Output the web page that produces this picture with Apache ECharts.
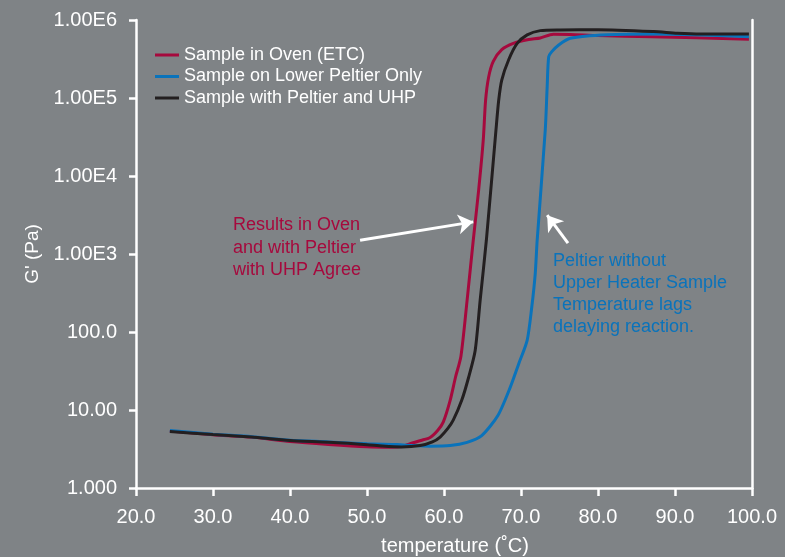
<!DOCTYPE html>
<html>
<head>
<meta charset="utf-8">
<script src="https://cdn.jsdelivr.net/npm/echarts@6/dist/echarts.min.js"></script>
<style>
html,body{margin:0;padding:0;background:#7f8386;}
#chart{width:785px;height:557px;}
</style>
</head>
<body>
<div id="chart"></div>
<script>
// ---- data ----
const seriesNames = ['Sample in Oven (ETC)', 'Sample on Lower Peltier Only', 'Sample with Peltier and UHP'];

const ovenX = [24.4, 30, 35, 40, 45, 50, 53, 54.5, 55.6, 57, 58.2, 59.2, 59.9, 60.8, 61.5, 62.2, 63.0, 63.8, 64.5, 65.1, 65.4, 65.8, 66.4, 67.5, 69.0, 71.0, 72.5, 74.2, 76.4, 80, 87, 99.6];
const ovenY = [5.36, 4.82, 4.49, 3.95, 3.62, 3.38, 3.34, 3.4, 3.7, 4.07, 4.45, 5.5, 7.0, 13.3, 26.5, 49, 255, 1500, 6600, 29000, 93000, 186000, 295000, 417000, 501000, 562000, 589000, 656000, 653000, 631000, 612000, 566000];

const peltierX = [24.4, 30, 35, 40, 45, 50, 53.9, 56, 58.2, 60.8, 63.0, 64.9, 67.0, 68.6, 69.7, 70.8, 71.4, 71.85, 72.1, 73.15, 73.4, 73.6, 74.0, 74.9, 76.4, 81.2, 87.7, 99.6];
const peltierY = [5.45, 4.9, 4.55, 4.1, 3.9, 3.68, 3.6, 3.5, 3.44, 3.5, 3.85, 4.7, 8.5, 19.5, 39, 78, 209, 562, 1500, 38900, 140000, 339000, 393000, 479000, 583000, 646000, 661000, 612000];

const uhpX = [24.4, 30, 35, 40, 45, 50, 52, 54.5, 56.9, 58.5, 59.5, 60.5, 61.2, 62.3, 63.2, 64.05, 64.7, 65.5, 66.75, 67.1, 67.5, 68.4, 69.5, 70.8, 72.5, 75.1, 80, 87.2, 90.3, 93.3, 99.6];
const uhpY = [5.3, 4.85, 4.5, 4.07, 3.87, 3.59, 3.45, 3.36, 3.5, 3.9, 4.5, 5.8, 7.4, 13.3, 26.3, 58, 257, 1500, 38900, 93000, 170000, 309000, 500000, 645000, 731000, 746000, 750000, 710000, 676000, 660000, 660000];

const xTickLabels = ['20.0', '30.0', '40.0', '50.0', '60.0', '70.0', '80.0', '90.0', '100.0'];
const yTickLabels = ['1.000', '10.00', '100.0', '1.00E3', '1.00E4', '1.00E5', '1.00E6'];

// annotation arrows (tail -> head), in data coordinates
const arrowOven = [[49.1, 1503], [63.8, 2582]];
const arrowPeltier = [[76.1, 1376], [73.4, 3148]];

const noteOven = 'Results in Oven\nand with Peltier\nwith UHP Agree';
const notePeltier = 'Peltier without\nUpper Heater Sample\nTemperature lags\ndelaying reaction.';

// ---- chart ----
const colors = ['#a6093d', '#0a73bb', '#231f20'];
const pairs = (xs, ys) => xs.map((x, i) => [x, ys[i]]);
const font = 'Liberation Sans, Arial, sans-serif';

const chart = echarts.init(document.getElementById('chart'), null, {renderer: 'canvas'});
const axisLine = {show: true, lineStyle: {color: '#ffffff', width: 2.5}};

const option = {
  backgroundColor: '#7f8386',
  animation: false,
  color: colors,
  grid: {left: 136, right: 33, top: 20, bottom: 69, containLabel: false, outerBoundsMode: 'none'},
  legend: {
    orient: 'vertical',
    left: 155,
    top: 46,
    padding: 0,
    icon: 'rect',
    itemWidth: 24,
    itemHeight: 3,
    itemGap: 3.5,
    data: seriesNames,
    textStyle: {color: '#ffffff', fontSize: 18, fontFamily: font}
  },
  xAxis: {
    type: 'value',
    min: 20,
    max: 100,
    interval: 10,
    name: 'temperature (˚C)',
    nameLocation: 'middle',
    nameGap: 48,
    nameTextStyle: {color: '#ffffff', fontSize: 20, fontFamily: font, padding: [0, 0, 0, 22]},
    axisLine: axisLine,
    axisTick: {show: true, length: 8, lineStyle: {color: '#ffffff', width: 2.5}},
    axisLabel: {
      color: '#ffffff', fontSize: 20, fontFamily: font, margin: 19,
      formatter: (v) => xTickLabels[Math.round((v - 20) / 10)]
    },
    splitLine: {show: false}
  },
  yAxis: [{
    type: 'log',
    logBase: 10,
    min: 1,
    max: 1e6,
    interval: 1,
    name: "G' (Pa)",
    nameLocation: 'middle',
    nameGap: 85,
    nameTextStyle: {color: '#ffffff', fontSize: 19, fontFamily: font},
    axisLine: axisLine,
    axisTick: {show: true, length: 7, lineStyle: {color: '#ffffff', width: 2.5}},
    axisLabel: {
      color: '#ffffff', fontSize: 20, fontFamily: font, margin: 19,
      formatter: (v) => yTickLabels[Math.round(Math.log10(v))]
    },
    splitLine: {show: false}
  }, {
    type: 'log',
    logBase: 10,
    min: 1,
    max: 1e6,
    position: 'right',
    axisLine: axisLine,
    axisTick: {show: false},
    axisLabel: {show: false},
    splitLine: {show: false}
  }],
  series: [
    {
      name: seriesNames[0], type: 'line', data: pairs(ovenX, ovenY),
      showSymbol: false, smooth: 0.25, lineStyle: {width: 3, color: colors[0]}, z: 2
    },
    {
      name: seriesNames[1], type: 'line', data: pairs(peltierX, peltierY),
      showSymbol: false, smooth: 0.25, lineStyle: {width: 3, color: colors[1]}, z: 3
    },
    {
      name: seriesNames[2], type: 'line', data: pairs(uhpX, uhpY),
      showSymbol: false, smooth: 0.25, lineStyle: {width: 3, color: colors[2]}, z: 4,
      markLine: {
        silent: true,
        symbol: ['none', 'arrow'],
        symbolSize: 15,
        label: {show: false},
        lineStyle: {color: '#ffffff', width: 3, type: 'solid'},
        data: [
          [{coord: arrowOven[0]}, {coord: arrowOven[1]}],
          [{coord: arrowPeltier[0]}, {coord: arrowPeltier[1]}]
        ]
      }
    }
  ],
  graphic: [
    {type: 'text', left: 233, top: 214, style: {text: noteOven, fill: colors[0], font: '18px ' + font, lineHeight: 22.5}},
    {type: 'text', left: 553, top: 250, style: {text: notePeltier, fill: colors[1], font: '18px ' + font, lineHeight: 22}}
  ]
};
chart.setOption(option);
</script>
</body>
</html>
